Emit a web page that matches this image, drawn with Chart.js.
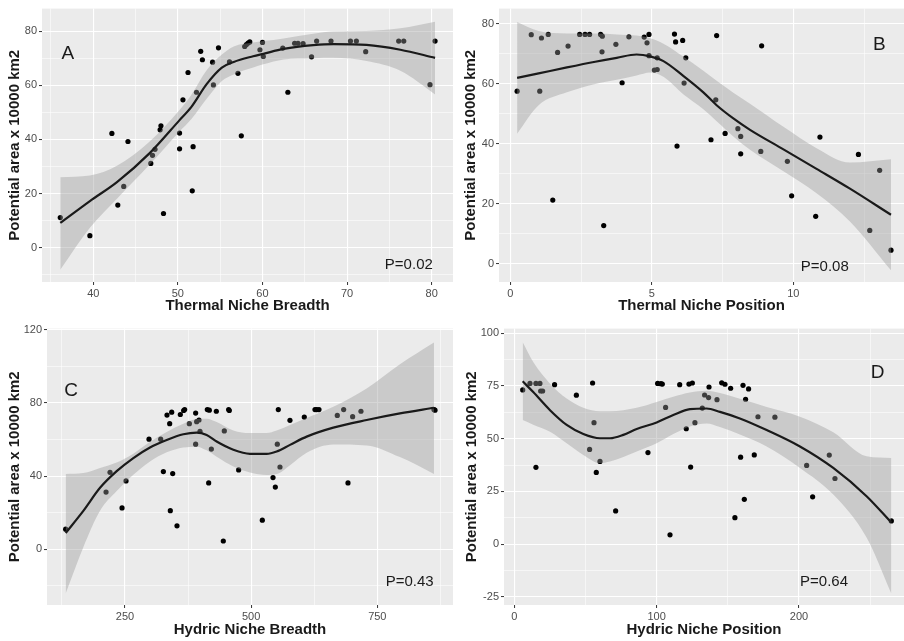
<!DOCTYPE html>
<html>
<head>
<meta charset="utf-8">
<title>Potential area vs niche</title>
<script src="https://cdn.jsdelivr.net/npm/chart.js@4.4.1/dist/chart.umd.min.js"></script>
<style>
  html, body { margin: 0; padding: 0; background: #fff; overflow: hidden; }
  #wrap { position: relative; width: 904px; height: 641px; }
  canvas { position: absolute; }
</style>
</head>
<body>
<div id="wrap">
  <canvas id="panelA" width="455" height="320" style="left:0;top:0"></canvas>
  <canvas id="panelB" width="449" height="320" style="left:455px;top:0"></canvas>
  <canvas id="panelC" width="455" height="321" style="left:0;top:320px"></canvas>
  <canvas id="panelD" width="449" height="321" style="left:455px;top:320px"></canvas>
</div>
<script>
// A: thermal niche breadth
const tnbX = [36.1, 39.6, 42.2, 42.9, 43.6, 44.1, 46.8, 47.0, 47.3, 47.9, 48.0, 48.3, 50.2, 50.2, 50.6, 51.2, 51.7, 51.8, 52.2, 52.7,
  52.9, 54.1, 54.2, 54.8, 56.1, 57.1, 57.5, 57.9, 58.1, 58.3, 58.5, 59.7, 60.0, 60.1, 62.4, 63.0, 63.8, 64.2, 64.8, 65.8,
  66.4, 68.1, 70.4, 71.1, 72.2, 76.1, 76.7, 79.8, 80.4];
const tnbY = [11.1, 4.4, 42.2, 15.7, 22.6, 39.2, 31.1, 34.1, 36.3, 43.5, 45.0, 12.6, 42.3, 36.5, 54.6, 64.7, 21.0, 37.3, 57.4, 72.5,
  69.4, 68.5, 60.1, 73.8, 68.6, 64.4, 41.3, 74.3, 75.0, 75.6, 76.0, 73.1, 75.8, 70.6, 73.7, 57.4, 75.5, 75.5, 75.4, 70.5,
  76.3, 76.3, 76.3, 76.3, 72.4, 76.3, 76.3, 60.2, 76.3];
const tnbFitX = [36.1, 39.6, 42.8, 46.7, 50.2, 51.6, 53.4, 55.2, 56.6, 58.9, 60.1, 62.5, 66.0, 68.4, 72.3, 76.3, 80.4];
const tnbFit  = [9.1, 17.2, 24.2, 35.0, 47.1, 52.0, 60.4, 66.5, 68.6, 70.7, 71.6, 73.4, 74.8, 75.2, 74.9, 73.1, 70.1];
const tnbHi   = [26.0, 26.6, 30.2, 39.3, 50.8, 56.5, 65.5, 71.3, 74.3, 75.8, 76.3, 77.3, 79.0, 79.8, 80.0, 81.0, 83.4];
const tnbLo   = [-8.2, 7.3, 18.1, 30.8, 42.9, 47.5, 55.0, 61.6, 64.0, 66.5, 67.7, 69.5, 70.0, 70.1, 68.9, 65.3, 56.6];

// B: thermal niche position
const tnpX = [0.24, 0.74, 1.10, 1.04, 1.34, 1.50, 1.67, 2.04, 2.45, 2.64, 2.80, 3.19, 3.25, 3.24, 3.30, 3.73, 3.95, 4.19, 4.73, 4.83,
  4.90, 4.90, 5.09, 5.19, 5.19, 5.80, 5.84, 5.89, 6.09, 6.14, 6.20, 7.09, 7.26, 7.29, 7.59, 8.04, 8.14, 8.14, 8.85, 8.88,
  9.79, 9.94, 10.79, 10.94, 12.30, 12.70, 13.05, 13.45];
const tnpY = [57.5, 76.3, 75.2, 57.5, 76.4, 21.2, 70.4, 72.5, 76.4, 76.4, 76.4, 76.4, 75.8, 70.6, 12.7, 73.1, 60.3, 75.6, 75.5, 73.6,
  76.4, 69.3, 64.5, 64.7, 68.6, 76.5, 73.9, 39.2, 74.4, 60.2, 68.6, 41.3, 54.6, 76.0, 43.4, 45.0, 42.4, 36.6, 37.4, 72.6,
  34.1, 22.6, 15.8, 42.2, 36.4, 11.1, 31.1, 4.5];
const tnpFitX = [0.24, 1.0, 2.0, 3.0, 3.76, 4.46, 4.94, 5.41, 6.11, 6.82, 7.29, 7.88, 8.47, 9.65, 10.82, 12.0, 13.45];
const tnpFit  = [61.9, 63.4, 65.4, 67.3, 68.6, 69.7, 69.1, 67.5, 62.6, 57.1, 52.8, 48.4, 44.6, 38.1, 31.6, 25.0, 16.3];
const tnpHi   = [80.5, 77.5, 76.7, 76.7, 76.4, 76.0, 75.1, 73.3, 69.0, 64.3, 61.0, 57.0, 53.3, 45.6, 38.5, 33.7, 34.8];
const tnpLo   = [43.3, 52.8, 57.1, 59.9, 61.3, 62.7, 63.7, 62.3, 56.5, 51.5, 47.5, 42.4, 38.0, 30.8, 23.5, 14.1, -2.2];

// C: hydric niche breadth
const hnbX = [132.4, 212.4, 220.3, 244.1, 252.0, 297.6, 320.7, 326.0, 333.2, 338.5, 339.8, 342.5, 344.5, 353.0, 359.6, 366.2, 368.2,
  377.5, 390.0, 390.0, 392.0, 396.6, 398.6, 413.1, 417.1, 415.8, 421.1, 431.0, 446.8, 444.8, 455.4, 456.7, 475.2, 522.1,
  543.3, 547.9, 551.8, 553.8, 557.1, 576.9, 605.3, 626.5, 629.8, 634.4, 670.7, 683.3, 691.9, 701.1, 717.6, 862.3, 864.3];
const hnbY = [11.0, 31.3, 42.1, 22.6, 37.4, 60.2, 60.2, 42.5, 73.4, 68.7, 21.1, 75.0, 41.4, 12.8, 73.7, 75.9, 76.4,
  68.7, 74.5, 57.5, 69.8, 70.7, 64.5, 76.4, 76.1, 36.3, 54.8, 75.5, 64.7, 4.5, 76.4, 75.9, 43.4, 15.9,
  39.2, 34.0, 57.5, 76.4, 45.0, 70.5, 72.3, 76.4, 76.4, 76.4, 73.2, 76.4, 36.3, 72.5, 75.5, 76.4, 76.1];
const hnbFitX = [132.4, 167.4, 200.5, 233.5, 266.5, 299.5, 332.6, 365.6, 392.0, 411.8, 431.6, 464.7, 497.7, 530.7, 550.5, 577.0,
  610.0, 662.8, 728.9, 794.9, 862.3];
const hnbFit  = [8.9, 21.0, 33.6, 42.7, 49.9, 55.7, 59.8, 62.9, 63.8, 62.5, 58.9, 54.4, 52.2, 52.2, 53.5, 57.1, 61.6, 66.5, 70.7, 74.3, 77.4];
const hnbHi   = [41.2, 41.7, 44.5, 47.5, 52.3, 58.8, 64.2, 68.6, 71.2, 71.4, 69.6, 65.0, 63.6, 63.6, 65.0, 68.0, 71.8, 78.0, 88.0, 101.2, 113.1];
const hnbLo   = [-24.2, 1.1, 21.0, 31.8, 40.7, 48.0, 53.0, 55.6, 56.1, 54.1, 50.6, 45.3, 42.0, 40.6, 41.1, 46.0, 52.8, 57.3, 56.8, 50.4, 41.2];

// D: hydric niche position
const hnpX = [5.9, 11.0, 15.2, 15.2, 18.0, 18.5, 19.9, 28.3, 43.6, 52.9, 55.0, 56.0, 57.6, 60.2, 71.2, 93.9, 100.7, 103.0, 104.0, 106.3,
  109.4, 116.2, 120.8, 122.7, 123.9, 125.1, 126.9, 132.1, 133.7, 136.5, 136.8, 142.4, 145.7, 148.0, 152.0, 155.0, 159.0, 160.7,
  161.6, 162.5, 164.6, 168.6, 171.2, 183.1, 205.4, 209.6, 221.3, 225.3, 264.9];
const hnpY = [73.1, 76.2, 76.2, 36.4, 76.2, 72.6, 72.6, 75.6, 70.6, 44.9, 76.4, 57.6, 34.0, 39.2, 15.7, 43.4, 76.2, 76.1, 75.9, 64.8,
  4.4, 75.6, 54.7, 75.9, 36.5, 76.4, 57.6, 64.5, 70.7, 69.5, 74.5, 68.5, 76.5, 75.8, 73.9, 12.5, 41.2, 75.3,
  21.2, 68.7, 73.6, 42.3, 60.4, 60.2, 37.3, 22.4, 42.2, 31.1, 11.0];
const hnpFitX = [5.9, 13.3, 25.1, 36.8, 48.5, 60.2, 67.2, 76.6, 86.0, 100.0, 111.7, 123.4, 135.1, 144.5, 158.5, 177.3, 200.7, 224.1, 247.5, 264.9];
const hnpFit  = [77.2, 72.1, 63.5, 56.5, 52.2, 50.2, 50.2, 51.8, 54.6, 57.7, 61.2, 64.0, 64.3, 62.7, 59.6, 54.1, 46.3, 36.1, 22.7, 10.2];
const hnpHi   = [95.7, 86.3, 76.1, 69.0, 64.6, 63.0, 63.0, 63.5, 64.6, 67.4, 69.9, 71.9, 72.7, 71.6, 68.9, 65.0, 60.4, 53.0, 41.6, 40.8];
const hnpLo   = [58.8, 56.6, 53.3, 47.8, 42.3, 38.4, 39.2, 41.3, 43.9, 47.8, 52.2, 55.8, 57.2, 55.5, 52.0, 46.3, 36.1, 23.5, 3.1, -23.5];

// axis breaks (labelled) and minor gridlines
const tnbTicks = [40, 50, 60, 70, 80],   tnbMinor = [35, 45, 55, 65, 75];
const tnpTicks = [0, 5, 10],             tnpMinor = [2.5, 7.5, 12.5];
const hnbTicks = [250, 500, 750],        hnbMinor = [125, 375, 625, 875];
const hnpTicks = [0, 100, 200],          hnpMinor = [50, 150, 250];
const areaTicksTop = [0, 20, 40, 60, 80],  areaMinorTop = [-10, 10, 30, 50, 70];
const areaTicksC = [0, 40, 80, 120],       areaMinorC = [-20, 20, 60, 100];
const areaTicksD = [-25, 0, 25, 50, 75, 100], areaMinorD = [-12.5, 12.5, 37.5, 62.5, 87.5];

const yTitle = 'Potential area x 10000 km2';
const FONT = "'Liberation Sans', Arial, sans-serif";

function pairs(xs, ys) {
  return xs.map((x, i) => ({ x: x, y: ys[i] }));
}

function axis(cfg) {
  const majors = cfg.ticks;
  const isMajor = c => c.tick && majors.includes(c.tick.value);
  const horiz = cfg.pos === 'bottom';
  return {
    type: 'linear',
    position: cfg.pos,
    min: cfg.min,
    max: cfg.max,
    afterBuildTicks: s => {
      s.ticks = majors.concat(cfg.minor)
        .filter(v => v >= cfg.min && v <= cfg.max)
        .sort((a, b) => a - b)
        .map(v => ({ value: v }));
    },
    afterFit: s => {
      if (horiz) s.height = cfg.size; else s.width = cfg.size;
    },
    ticks: {
      autoSkip: false,
      maxRotation: 0,
      padding: 2,
      color: '#4d4d4d',
      font: { family: FONT, size: 11 },
      callback: v => majors.includes(v) ? String(v) : ''
    },
    grid: {
      color: '#ffffff',
      lineWidth: c => isMajor(c) ? 1.1 : 0.55,
      drawTicks: true,
      tickLength: 3,
      tickWidth: 1,
      tickColor: c => isMajor(c) ? '#333333' : 'rgba(0,0,0,0)'
    },
    border: { display: false },
    title: {
      display: true,
      text: cfg.title,
      color: '#1a1a1a',
      font: { family: FONT, size: 15, weight: 'bold', lineHeight: 1.2 },
      padding: horiz ? { top: 0, bottom: cfg.titlePad } : { top: cfg.titlePad, bottom: 0 }
    }
  };
}

function makePanel(id, p) {
  // grey panel behind the grid
  const panelBg = {
    id: 'panelBg',
    beforeDraw(chart) {
      const a = chart.chartArea, ctx = chart.ctx;
      ctx.save();
      ctx.fillStyle = '#ebebeb';
      ctx.fillRect(a.left, a.top, a.right - a.left, a.bottom - a.top);
      ctx.restore();
    }
  };
  // panel letter and p-value, placed in data units
  const panelText = {
    id: 'panelText',
    afterDatasetsDraw(chart) {
      const ctx = chart.ctx, sx = chart.scales.x, sy = chart.scales.y;
      ctx.save();
      ctx.fillStyle = '#1a1a1a';
      ctx.textAlign = 'center';
      ctx.textBaseline = 'middle';
      p.labels.forEach(l => {
        ctx.font = l.size + 'px ' + FONT;
        ctx.fillText(l.text, sx.getPixelForValue(l.x), sy.getPixelForValue(l.y));
      });
      ctx.restore();
    }
  };

  new Chart(document.getElementById(id), {
    type: 'line',
    data: {
      datasets: [
        {
          label: 'species',
          data: pairs(p.x, p.y),
          showLine: false,
          pointRadius: 2.6,
          pointBackgroundColor: '#000',
          pointBorderWidth: 0,
          order: 3
        },
        {
          label: 'upper',
          data: pairs(p.fitX, p.hi),
          borderColor: 'rgba(0,0,0,0)',
          borderWidth: 0,
          pointRadius: 0,
          cubicInterpolationMode: 'monotone',
          fill: false,
          order: 2
        },
        {
          label: 'lower',
          data: pairs(p.fitX, p.lo),
          borderColor: 'rgba(0,0,0,0)',
          borderWidth: 0,
          pointRadius: 0,
          cubicInterpolationMode: 'monotone',
          fill: '-1',
          backgroundColor: 'rgba(153,153,153,0.4)',
          order: 2
        },
        {
          label: 'loess',
          data: pairs(p.fitX, p.fit),
          borderColor: '#1a1a1a',
          borderWidth: 2.2,
          pointRadius: 0,
          cubicInterpolationMode: 'monotone',
          fill: false,
          order: 1
        }
      ]
    },
    options: {
      responsive: false,
      animation: false,
      devicePixelRatio: 1,
      events: [],
      layout: { autoPadding: false, padding: p.pad },
      plugins: { legend: { display: false }, tooltip: { enabled: false } },
      scales: { x: p.xAxis, y: p.yAxis }
    },
    plugins: [panelBg, panelText]
  });
}

makePanel('panelA', {
  x: tnbX, y: tnbY, fitX: tnbFitX, fit: tnbFit, hi: tnbHi, lo: tnbLo,
  pad: { left: 0, top: 3, right: 2, bottom: 0 },
  xAxis: axis({ pos: 'bottom', min: 33.94, max: 82.52, ticks: tnbTicks, minor: tnbMinor, size: 38, title: 'Thermal Niche Breadth', titlePad: 5 }),
  yAxis: axis({ pos: 'left', min: -12.7, max: 88.3, ticks: areaTicksTop, minor: areaMinorTop, size: 42, title: yTitle, titlePad: 6 }),
  labels: [{ text: 'A', x: 37.0, y: 71.6, size: 19 }, { text: 'P=0.02', x: 77.3, y: -6.5, size: 15 }]
});

makePanel('panelB', {
  x: tnpX, y: tnpY, fitX: tnpFitX, fit: tnpFit, hi: tnpHi, lo: tnpLo,
  pad: { left: 0, top: 3, right: 0, bottom: 0 },
  xAxis: axis({ pos: 'bottom', min: -0.40, max: 13.91, ticks: tnpTicks, minor: tnpMinor, size: 38, title: 'Thermal Niche Position', titlePad: 5 }),
  yAxis: axis({ pos: 'left', min: -6.1, max: 85.0, ticks: areaTicksTop, minor: areaMinorTop, size: 44, title: yTitle, titlePad: 7 }),
  labels: [{ text: 'B', x: 13.04, y: 73.1, size: 19 }, { text: 'P=0.08', x: 11.11, y: -1.1, size: 15 }]
});

makePanel('panelC', {
  x: hnbX, y: hnbY, fitX: hnbFitX, fit: hnbFit, hi: hnbHi, lo: hnbLo,
  pad: { left: 0, top: 6, right: 2, bottom: 0 },
  xAxis: axis({ pos: 'bottom', min: 95.4, max: 900.0, ticks: hnbTicks, minor: hnbMinor, size: 36, title: 'Hydric Niche Breadth', titlePad: 2 }),
  yAxis: axis({ pos: 'left', min: -30.5, max: 120.7, ticks: areaTicksC, minor: areaMinorC, size: 47, title: yTitle, titlePad: 6 }),
  labels: [{ text: 'C', x: 143, y: 86.6, size: 19 }, { text: 'P=0.43', x: 814, y: -17.9, size: 15 }]
});

makePanel('panelD', {
  x: hnpX, y: hnpY, fitX: hnpFitX, fit: hnpFit, hi: hnpHi, lo: hnpLo,
  pad: { left: 0, top: 6, right: 0, bottom: 0 },
  xAxis: axis({ pos: 'bottom', min: -7.24, max: 273.8, ticks: hnpTicks, minor: hnpMinor, size: 36, title: 'Hydric Niche Position', titlePad: 2 }),
  yAxis: axis({ pos: 'left', min: -28.9, max: 102.2, ticks: areaTicksD, minor: areaMinorD, size: 49, title: yTitle, titlePad: 8 }),
  labels: [{ text: 'D', x: 255.3, y: 81.4, size: 19 }, { text: 'P=0.64', x: 217.6, y: -18.0, size: 15 }]
});
</script>
</body>
</html>
